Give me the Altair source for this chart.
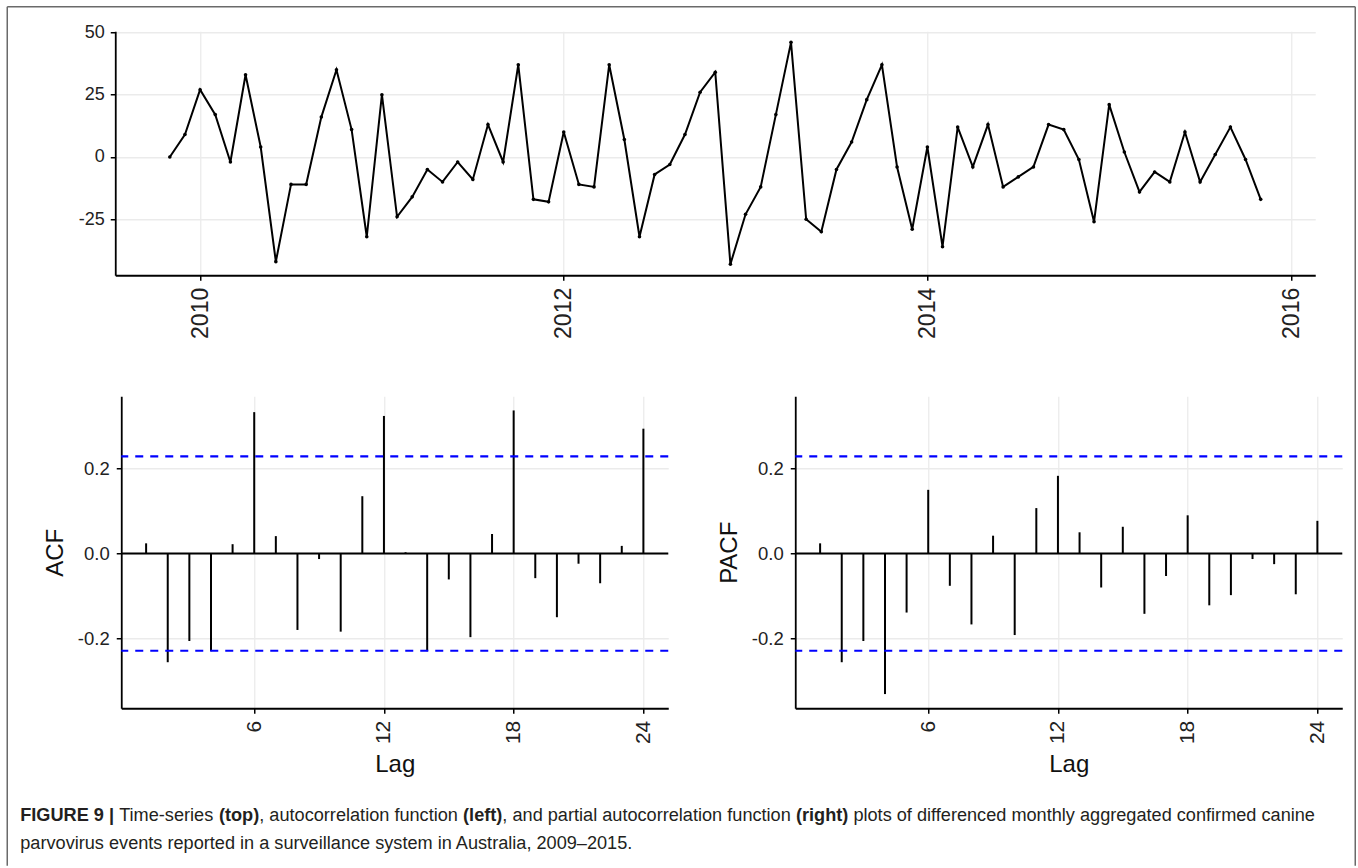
import altair as alt
import pandas as pd

# ------------------------------------------------------------------ data
ts_start_year = 2009
ts_start_month = 11
ts_values = [0, 9, 27, 17, -2, 33, 4, -42, -11, -11, 16, 35, 11, -32, 25, -24,
             -16, -5, -10, -2, -9, 13, -2, 37, -17, -18, 10, -11, -12, 37, 7, -32,
             -7, -3, 9, 26, 34, -43, -23, -12, 17, 46, -25, -30, -5, 6, 23, 37,
             -4, -29, 4, -36, 12, -4, 13, -12, -8, -4, 13, 11, -1, -26, 21, 2,
             -14, -6, -10, 10, -10, 1, 12, -1, -17]

lags = list(range(1, 25))
acf_values = [0.024, -0.256, -0.206, -0.230, 0.022, 0.333, 0.041, -0.180,
              -0.013, -0.184, 0.135, 0.324, 0.003, -0.230, -0.061, -0.197,
              0.046, 0.337, -0.058, -0.150, -0.024, -0.070, 0.018, 0.294]
pacf_values = [0.024, -0.256, -0.206, -0.331, -0.139, 0.150, -0.076, -0.167,
               0.042, -0.192, 0.107, 0.183, 0.050, -0.080, 0.063, -0.142,
               -0.053, 0.090, -0.122, -0.098, -0.013, -0.025, -0.096, 0.077]
ci_bound = 0.229

ts_year_ticks = [2010, 2012, 2014, 2016]
ts_value_ticks = [-25, 0, 25, 50]
lag_ticks = [6, 12, 18, 24]
cf_ticks = [-0.2, 0.0, 0.2]

caption_line1 = [
    ("FIGURE 9 |", True), (" Time-series ", False), ("(top)", True),
    (", autocorrelation function ", False), ("(left)", True),
    (", and partial autocorrelation function ", False), ("(right)", True),
    (" plots of differenced monthly aggregated confirmed canine", False),
]
caption_line2 = [
    ("parvovirus events reported in a surveillance system in Australia, 2009\u20132015.", False),
]

# ------------------------------------------------------------------ layout / style
FONT = "Liberation Sans"
TOP_W, TOP_H = 1200, 244
CF_W, CF_H = 547, 312
TOP_X0, TOP_Y0 = 115, 30.6          # page position of the top plot origin
FRAME_COLOR = "#6a6a6a"
CAP_COLOR = "#231f20"
CAP_SIZE = 18.15
CAP_X = 20
CAP_BASE1, CAP_BASE2 = 820, 848

REG_W = {' ': 278, '|': 260, '(': 333, ')': 333, ',': 278, '-': 333, '.': 278,
         '\u2013': 556, 'a': 556, 'b': 556, 'c': 500, 'd': 556, 'e': 556, 'f': 278,
         'g': 556, 'h': 556, 'i': 222, 'j': 222, 'k': 500, 'l': 222, 'm': 833,
         'n': 556, 'o': 556, 'p': 556, 'q': 556, 'r': 333, 's': 500, 't': 278,
         'u': 556, 'v': 500, 'w': 722, 'x': 500, 'y': 500, 'z': 500, 'A': 667,
         'T': 611, 'F': 611, 'I': 278, 'G': 778, 'U': 722, 'R': 722, 'E': 667}
BOLD_W = {' ': 278, '|': 280, '(': 333, ')': 333, 'F': 611, 'I': 278, 'G': 778,
          'U': 722, 'R': 722, 'E': 667, 't': 333, 'o': 611, 'p': 611, 'l': 278,
          'e': 556, 'f': 333, 'r': 389, 'i': 278, 'g': 611, 'h': 611}


def text_w(s, bold):
    table = BOLD_W if bold else REG_W
    return sum(table.get(c, 556) for c in s) * CAP_SIZE / 1000.0


one = pd.DataFrame({"k": [0]})


def caption_layers(segments, baseline_page):
    out = []
    x = CAP_X - TOP_X0
    y = baseline_page - TOP_Y0
    for seg, bold in segments:
        lead = len(seg) - len(seg.lstrip())
        xd = x + text_w(seg[:lead], bold)
        out.append(
            alt.Chart(one).mark_text(
                text=seg.strip(), align="left", baseline="alphabetic", font=FONT,
                fontSize=CAP_SIZE, fontWeight="bold" if bold else "normal",
                color=CAP_COLOR,
            ).encode(x=alt.value(xd), y=alt.value(y))
        )
        x += text_w(seg, bold)
    return out


def hyphen_expr(fmt):
    return ("datum.value < 0 ? '-' + format(-datum.value, '%s') : format(datum.value, '%s')"
            % (fmt, fmt))


# ------------------------------------------------------------------ top panel
ts_time = [ts_start_year + (ts_start_month - 1 + i) / 12.0 for i in range(len(ts_values))]
ts_df = pd.DataFrame({"t": ts_time, "v": ts_values})
t_lo, t_hi = min(ts_time), max(ts_time)
t_pad = 0.05 * (t_hi - t_lo)
v_lo, v_hi = min(ts_values), max(ts_values)
v_pad = 0.05 * (v_hi - v_lo)

tx = alt.X("t:Q", scale=alt.Scale(domain=[t_lo - t_pad, t_hi + t_pad], nice=False, zero=False),
           axis=alt.Axis(values=ts_year_ticks, format="d", labelAngle=270, labelAlign="right",
                         labelBaseline="middle", labelFontSize=23, labelPadding=7, title=None))
ty = alt.Y("v:Q", scale=alt.Scale(domain=[v_lo - v_pad, v_hi + v_pad], nice=False, zero=False),
           axis=alt.Axis(values=ts_value_ticks, labelExpr=hyphen_expr("d"), labelFontSize=18,
                         labelPadding=6, title=None))

ts_line = alt.Chart(ts_df).mark_line(color="black", strokeWidth=2).encode(x=tx, y=ty)
ts_pts = alt.Chart(ts_df).mark_circle(color="black", size=13, opacity=1).encode(x=tx, y=ty)

fx0, fx1 = 7 - TOP_X0, 1355 - TOP_X0
fy0, fy1 = 6 - TOP_Y0, 865 - TOP_Y0
frame = [
    alt.Chart(one).mark_rule(color=FRAME_COLOR, strokeWidth=1.5).encode(
        x=alt.value(fx0), x2=alt.value(fx1), y=alt.value(fy0)),
    alt.Chart(one).mark_rule(color=FRAME_COLOR, strokeWidth=1.5).encode(
        x=alt.value(fx0), y=alt.value(fy0), y2=alt.value(fy1)),
    alt.Chart(one).mark_rule(color=FRAME_COLOR, strokeWidth=1.5).encode(
        x=alt.value(fx1), y=alt.value(fy0), y2=alt.value(fy1)),
]

top = alt.layer(
    ts_line, ts_pts, *frame,
    *caption_layers(caption_line1, CAP_BASE1),
    *caption_layers(caption_line2, CAP_BASE2),
).properties(width=TOP_W, height=TOP_H)

# ------------------------------------------------------------------ ACF / PACF panels
all_cf = acf_values + pacf_values + [ci_bound, -ci_bound]
cf_lo, cf_hi = min(all_cf), max(all_cf)
cf_pad = 0.05 * (cf_hi - cf_lo)
lag_pad = 0.05 * (max(lags) - min(lags))


def cf_panel(values, ytitle):
    df = pd.DataFrame({"lag": lags, "value": values, "base": [0.0] * len(lags)})
    xs = alt.Scale(domain=[min(lags) - lag_pad, max(lags) + lag_pad], nice=False, zero=False)
    ys = alt.Scale(domain=[cf_lo - cf_pad, cf_hi + cf_pad], nice=False, zero=False)
    x_axis = alt.Axis(values=lag_ticks, format="d", labelAngle=270, labelAlign="right",
                      labelBaseline="middle", labelFontSize=21, labelPadding=7,
                      title="Lag", titleFontSize=24, titleX=CF_W / 2, titleY=63,
                      titleAlign="center", titleBaseline="alphabetic")
    y_axis = alt.Axis(values=cf_ticks, labelExpr=hyphen_expr(".1f"), labelFontSize=18.5,
                      labelPadding=7, title=ytitle, titleFontSize=24, titleAngle=270,
                      titleX=-66, titleY=CF_H / 2, titleAlign="center", titleBaseline="middle")
    zero = alt.Chart(pd.DataFrame({"value": [0.0]})).mark_rule(
        color="black", strokeWidth=2).encode(y=alt.Y("value:Q", scale=ys, axis=y_axis))
    bars = alt.Chart(df).mark_rule(color="black", strokeWidth=2).encode(
        x=alt.X("lag:Q", scale=xs, axis=x_axis),
        y=alt.Y("value:Q", scale=ys, axis=y_axis),
        y2="base:Q",
    )
    blue = alt.Chart(pd.DataFrame({"value": [ci_bound, -ci_bound]})).mark_rule(
        color="#0000ff", strokeWidth=2.2, strokeDash=[8, 7]).encode(
        y=alt.Y("value:Q", scale=ys, axis=y_axis))
    return alt.layer(bars, zero, blue).properties(width=CF_W, height=CF_H)


acf_chart = cf_panel(acf_values, "ACF")
pacf_chart = cf_panel(pacf_values, "PACF")

spacer = alt.Chart(one).mark_point(opacity=0).encode(
    x=alt.value(0), y=alt.value(0)).properties(width=1, height=1)

bottom = alt.hconcat(
    spacer,
    alt.hconcat(acf_chart, pacf_chart, spacing=127, bounds="flush"),
    spacing=5, bounds="flush",
)

chart = alt.vconcat(top, bottom, spacing=121, bounds="flush").properties(
    padding={"left": 6.25, "top": 5.25, "right": 0, "bottom": 0},
    background="white",
).configure_view(stroke=None).configure_axis(
    domainColor="black", domainWidth=1.8, tickColor="black", tickWidth=1.5, tickSize=5,
    labelColor="#222222", labelFont=FONT, titleFont=FONT, titleColor="#111111",
    titleFontWeight="normal", gridColor="#ebebeb", gridWidth=1.3,
)

chart.save("out.html", embed_options={"renderer": "svg", "actions": False})
